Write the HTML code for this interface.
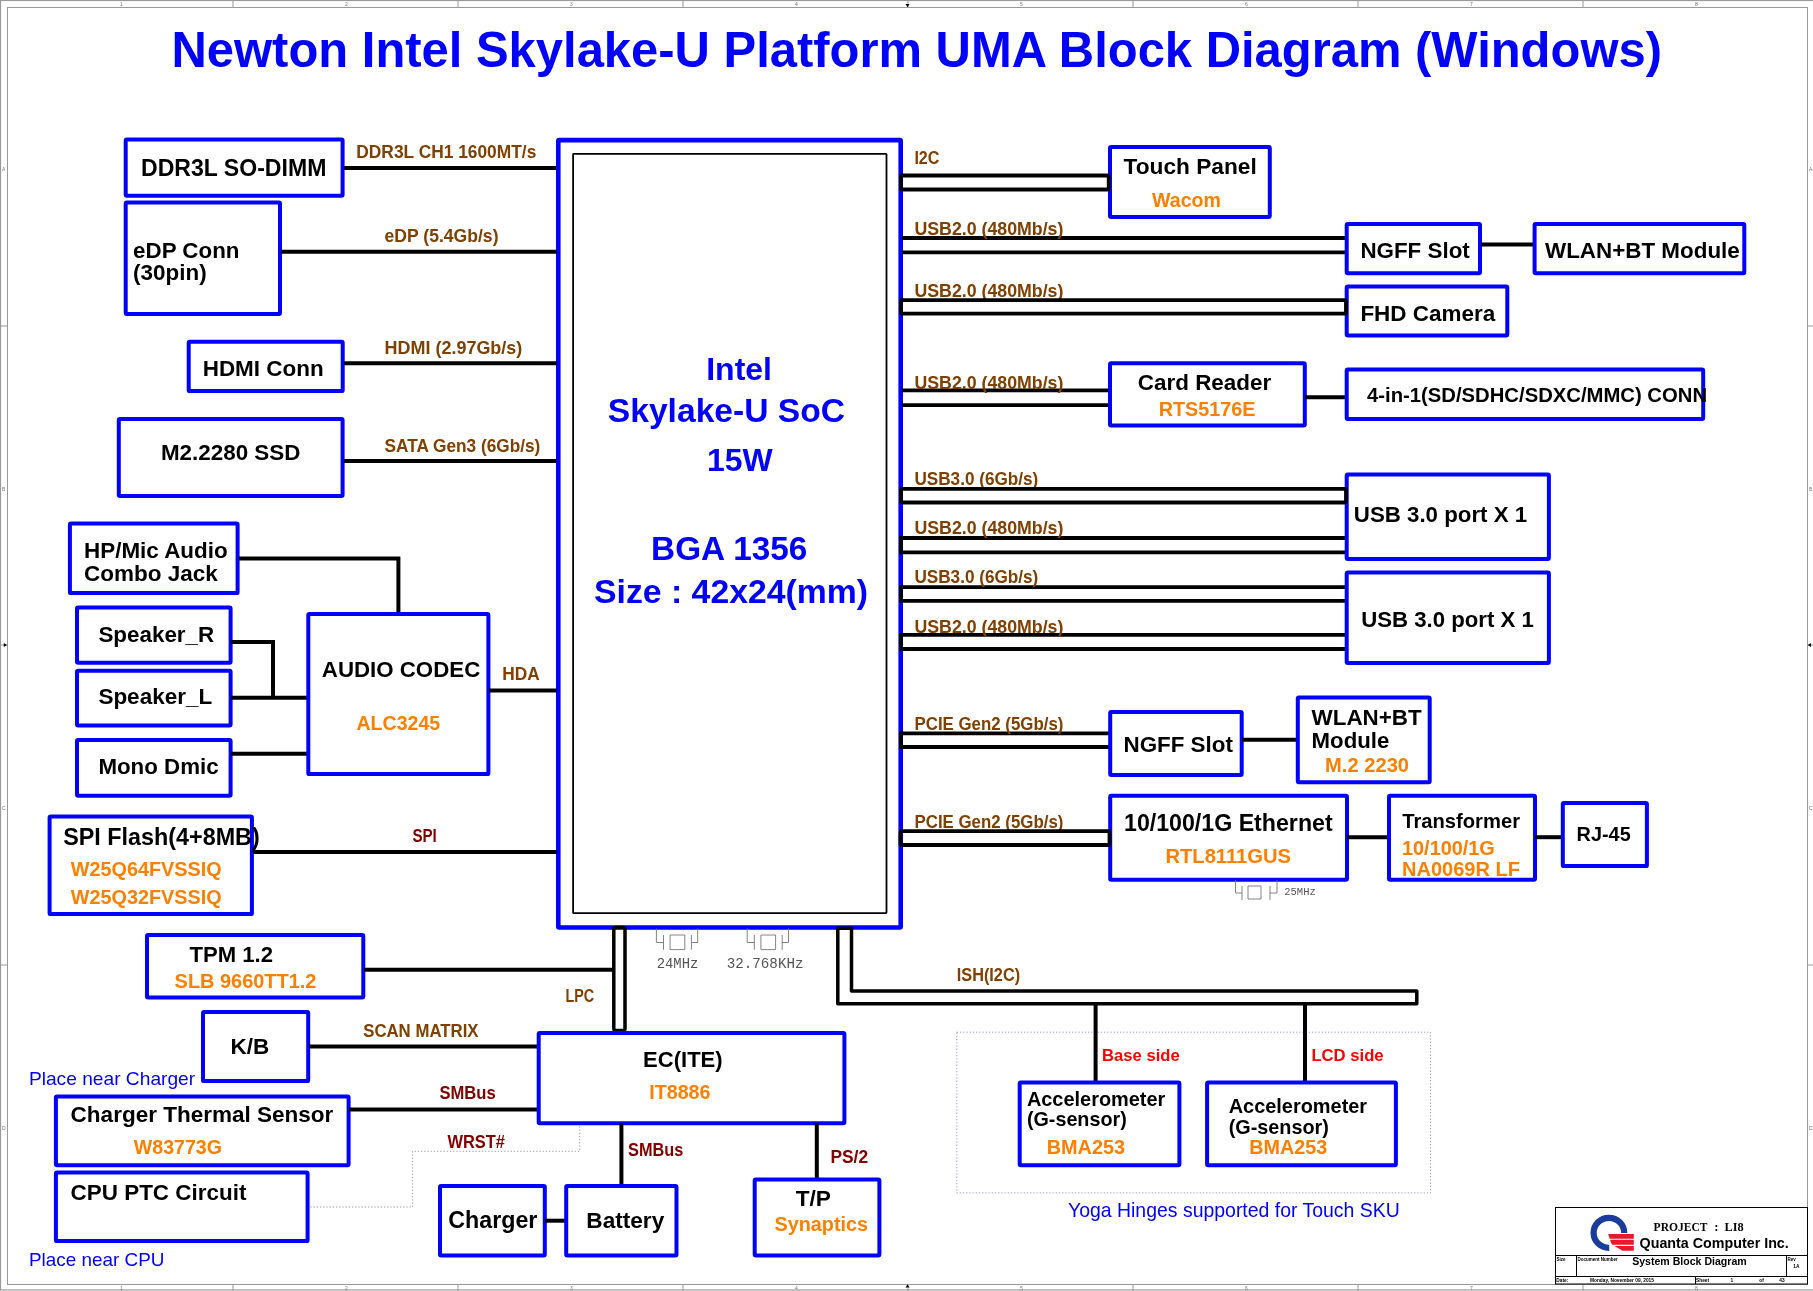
<!DOCTYPE html>
<html><head><meta charset="utf-8"><title>Newton Intel Skylake-U Platform UMA Block Diagram</title>
<style>
html,body{margin:0;padding:0;background:#fff;}
body{width:1813px;height:1291px;overflow:hidden;font-family:"Liberation Sans",sans-serif;}
svg{position:absolute;left:0;top:0;display:block;will-change:transform;}
</style></head>
<body>
<svg width="1813" height="1291" viewBox="0 0 1813 1291">
<rect x="0.5" y="0.5" width="1830" height="1289.5" fill="none" stroke="#999999" stroke-width="1.2"/>
<rect x="7.5" y="7.5" width="1800" height="1277" fill="none" stroke="#999999" stroke-width="1"/>
<line x1="233" y1="0" x2="233" y2="7" stroke="#999999" stroke-width="1"/>
<line x1="233" y1="1284" x2="233" y2="1291" stroke="#999999" stroke-width="1"/>
<line x1="458" y1="0" x2="458" y2="7" stroke="#999999" stroke-width="1"/>
<line x1="458" y1="1284" x2="458" y2="1291" stroke="#999999" stroke-width="1"/>
<line x1="683" y1="0" x2="683" y2="7" stroke="#999999" stroke-width="1"/>
<line x1="683" y1="1284" x2="683" y2="1291" stroke="#999999" stroke-width="1"/>
<line x1="908" y1="0" x2="908" y2="7" stroke="#999999" stroke-width="1"/>
<line x1="908" y1="1284" x2="908" y2="1291" stroke="#999999" stroke-width="1"/>
<line x1="1133" y1="0" x2="1133" y2="7" stroke="#999999" stroke-width="1"/>
<line x1="1133" y1="1284" x2="1133" y2="1291" stroke="#999999" stroke-width="1"/>
<line x1="1358" y1="0" x2="1358" y2="7" stroke="#999999" stroke-width="1"/>
<line x1="1358" y1="1284" x2="1358" y2="1291" stroke="#999999" stroke-width="1"/>
<line x1="1583" y1="0" x2="1583" y2="7" stroke="#999999" stroke-width="1"/>
<line x1="1583" y1="1284" x2="1583" y2="1291" stroke="#999999" stroke-width="1"/>
<text x="120" y="6" font-family='"Liberation Sans",sans-serif' font-size="5" fill="#777">1</text>
<text x="120" y="1290" font-family='"Liberation Sans",sans-serif' font-size="5" fill="#777">1</text>
<text x="345" y="6" font-family='"Liberation Sans",sans-serif' font-size="5" fill="#777">2</text>
<text x="345" y="1290" font-family='"Liberation Sans",sans-serif' font-size="5" fill="#777">2</text>
<text x="570" y="6" font-family='"Liberation Sans",sans-serif' font-size="5" fill="#777">3</text>
<text x="570" y="1290" font-family='"Liberation Sans",sans-serif' font-size="5" fill="#777">3</text>
<text x="795" y="6" font-family='"Liberation Sans",sans-serif' font-size="5" fill="#777">4</text>
<text x="795" y="1290" font-family='"Liberation Sans",sans-serif' font-size="5" fill="#777">4</text>
<text x="1020" y="6" font-family='"Liberation Sans",sans-serif' font-size="5" fill="#777">5</text>
<text x="1020" y="1290" font-family='"Liberation Sans",sans-serif' font-size="5" fill="#777">5</text>
<text x="1245" y="6" font-family='"Liberation Sans",sans-serif' font-size="5" fill="#777">6</text>
<text x="1245" y="1290" font-family='"Liberation Sans",sans-serif' font-size="5" fill="#777">6</text>
<text x="1470" y="6" font-family='"Liberation Sans",sans-serif' font-size="5" fill="#777">7</text>
<text x="1470" y="1290" font-family='"Liberation Sans",sans-serif' font-size="5" fill="#777">7</text>
<text x="1695" y="6" font-family='"Liberation Sans",sans-serif' font-size="5" fill="#777">8</text>
<text x="1695" y="1290" font-family='"Liberation Sans",sans-serif' font-size="5" fill="#777">8</text>
<line x1="0" y1="326" x2="7" y2="326" stroke="#999999" stroke-width="1"/>
<line x1="1807" y1="326" x2="1813" y2="326" stroke="#999999" stroke-width="1"/>
<line x1="0" y1="645" x2="7" y2="645" stroke="#999999" stroke-width="1"/>
<line x1="1807" y1="645" x2="1813" y2="645" stroke="#999999" stroke-width="1"/>
<line x1="0" y1="965" x2="7" y2="965" stroke="#999999" stroke-width="1"/>
<line x1="1807" y1="965" x2="1813" y2="965" stroke="#999999" stroke-width="1"/>
<text x="2" y="171" font-family='"Liberation Sans",sans-serif' font-size="5" fill="#777">A</text>
<text x="1809" y="171" font-family='"Liberation Sans",sans-serif' font-size="5" fill="#777">A</text>
<text x="2" y="491" font-family='"Liberation Sans",sans-serif' font-size="5" fill="#777">B</text>
<text x="1809" y="491" font-family='"Liberation Sans",sans-serif' font-size="5" fill="#777">B</text>
<text x="2" y="810" font-family='"Liberation Sans",sans-serif' font-size="5" fill="#777">C</text>
<text x="1809" y="810" font-family='"Liberation Sans",sans-serif' font-size="5" fill="#777">C</text>
<text x="2" y="1130" font-family='"Liberation Sans",sans-serif' font-size="5" fill="#777">D</text>
<text x="1809" y="1130" font-family='"Liberation Sans",sans-serif' font-size="5" fill="#777">D</text>
<path d="M905.5,4 h4 l-2,3.2 Z" fill="#000"/>
<path d="M905.5,1287.5 h4 l-2,-3.2 Z" fill="#000"/>
<path d="M3.8,643 v4 l3.2,-2 Z" fill="#000"/>
<path d="M1811,643 v4 l-3.2,-2 Z" fill="#000"/>
<text x="171.50" y="66.80" font-family='"Liberation Sans",sans-serif' font-weight="bold" font-size="50.29" fill="#0000FF" textLength="1490.48" lengthAdjust="spacingAndGlyphs">Newton Intel Skylake-U Platform UMA Block Diagram (Windows)</text>
<rect x="558.30" y="140.10" width="342.40" height="787.40" rx="1" fill="none" stroke="#0000FF" stroke-width="4.6"/>
<rect x="573.10" y="153.90" width="313.40" height="759.20" rx="0.5" fill="none" stroke="#000000" stroke-width="1.8"/>
<text x="706.20" y="380.10" font-family='"Liberation Sans",sans-serif' font-weight="bold" font-size="32.00" fill="#0000FF">Intel</text>
<text x="607.80" y="422.00" font-family='"Liberation Sans",sans-serif' font-weight="bold" font-size="33.62" fill="#0000FF">Skylake-U SoC</text>
<text x="706.90" y="470.80" font-family='"Liberation Sans",sans-serif' font-weight="bold" font-size="31.96" fill="#0000FF">15W</text>
<text x="651.10" y="560.20" font-family='"Liberation Sans",sans-serif' font-weight="bold" font-size="33.32" fill="#0000FF">BGA 1356</text>
<text x="594.10" y="602.50" font-family='"Liberation Sans",sans-serif' font-weight="bold" font-size="33.76" fill="#0000FF">Size : 42x24(mm)</text>
<rect x="125.70" y="139.60" width="216.90" height="56.20" rx="1.2" fill="none" stroke="#0000FF" stroke-width="4.0"/>
<text x="141.00" y="175.50" font-family='"Liberation Sans",sans-serif' font-weight="bold" font-size="23.07" fill="#000000">DDR3L SO-DIMM</text>
<path d="M344.00,167.90 L556.50,167.90" fill="none" stroke="#000000" stroke-width="4.0" stroke-linejoin="miter" stroke-linecap="butt"/>
<text x="356.30" y="157.80" font-family='"Liberation Sans",sans-serif' font-weight="bold" font-size="18.31" fill="#804000" textLength="180.00" lengthAdjust="spacingAndGlyphs">DDR3L CH1 1600MT/s</text>
<rect x="125.70" y="202.60" width="154.30" height="111.30" rx="1.2" fill="none" stroke="#0000FF" stroke-width="4.0"/>
<text x="133.10" y="257.90" font-family='"Liberation Sans",sans-serif' font-weight="bold" font-size="22.35" fill="#000000">eDP Conn</text>
<text x="133.10" y="280.40" font-family='"Liberation Sans",sans-serif' font-weight="bold" font-size="22.45" fill="#000000">(30pin)</text>
<path d="M281.00,251.80 L556.50,251.80" fill="none" stroke="#000000" stroke-width="4.0" stroke-linejoin="miter" stroke-linecap="butt"/>
<text x="384.60" y="241.70" font-family='"Liberation Sans",sans-serif' font-weight="bold" font-size="18.31" fill="#804000" textLength="113.90" lengthAdjust="spacingAndGlyphs">eDP (5.4Gb/s)</text>
<rect x="188.70" y="341.80" width="154.00" height="49.30" rx="1.2" fill="none" stroke="#0000FF" stroke-width="4.0"/>
<text x="202.70" y="376.40" font-family='"Liberation Sans",sans-serif' font-weight="bold" font-size="22.46" fill="#000000">HDMI Conn</text>
<path d="M344.00,363.20 L556.50,363.20" fill="none" stroke="#000000" stroke-width="4.0" stroke-linejoin="miter" stroke-linecap="butt"/>
<text x="384.60" y="353.90" font-family='"Liberation Sans",sans-serif' font-weight="bold" font-size="18.31" fill="#804000" textLength="137.70" lengthAdjust="spacingAndGlyphs">HDMI (2.97Gb/s)</text>
<rect x="118.80" y="419.10" width="223.80" height="76.90" rx="1.2" fill="none" stroke="#0000FF" stroke-width="4.0"/>
<text x="160.90" y="459.50" font-family='"Liberation Sans",sans-serif' font-weight="bold" font-size="22.41" fill="#000000">M2.2280 SSD</text>
<path d="M344.00,460.90 L556.50,460.90" fill="none" stroke="#000000" stroke-width="4.0" stroke-linejoin="miter" stroke-linecap="butt"/>
<text x="384.60" y="451.60" font-family='"Liberation Sans",sans-serif' font-weight="bold" font-size="18.31" fill="#804000" textLength="155.70" lengthAdjust="spacingAndGlyphs">SATA Gen3 (6Gb/s)</text>
<rect x="69.90" y="523.60" width="167.70" height="69.50" rx="1.2" fill="none" stroke="#0000FF" stroke-width="4.0"/>
<text x="84.00" y="557.70" font-family='"Liberation Sans",sans-serif' font-weight="bold" font-size="22.43" fill="#000000">HP/Mic Audio</text>
<text x="84.00" y="581.00" font-family='"Liberation Sans",sans-serif' font-weight="bold" font-size="22.49" fill="#000000">Combo Jack</text>
<path d="M239.00,558.40 L398.40,558.40 L398.40,613.50" fill="none" stroke="#000000" stroke-width="4.0" stroke-linejoin="miter" stroke-linecap="butt"/>
<rect x="77.00" y="607.60" width="153.60" height="55.20" rx="1.2" fill="none" stroke="#0000FF" stroke-width="4.0"/>
<text x="98.40" y="641.70" font-family='"Liberation Sans",sans-serif' font-weight="bold" font-size="22.42" fill="#000000">Speaker_R</text>
<rect x="77.00" y="670.80" width="153.60" height="54.60" rx="1.2" fill="none" stroke="#0000FF" stroke-width="4.0"/>
<text x="98.40" y="704.00" font-family='"Liberation Sans",sans-serif' font-weight="bold" font-size="22.49" fill="#000000">Speaker_L</text>
<rect x="77.00" y="739.90" width="153.60" height="55.80" rx="1.2" fill="none" stroke="#0000FF" stroke-width="4.0"/>
<text x="98.40" y="773.60" font-family='"Liberation Sans",sans-serif' font-weight="bold" font-size="22.32" fill="#000000">Mono Dmic</text>
<path d="M231.00,642.00 L273.00,642.00 L273.00,697.70" fill="none" stroke="#000000" stroke-width="4.0" stroke-linejoin="miter" stroke-linecap="butt"/>
<path d="M231.00,697.70 L308.00,697.70" fill="none" stroke="#000000" stroke-width="4.0" stroke-linejoin="miter" stroke-linecap="butt"/>
<path d="M231.00,753.70 L308.00,753.70" fill="none" stroke="#000000" stroke-width="4.0" stroke-linejoin="miter" stroke-linecap="butt"/>
<rect x="308.30" y="613.90" width="180.10" height="160.20" rx="1.2" fill="none" stroke="#0000FF" stroke-width="4.0"/>
<text x="321.80" y="676.80" font-family='"Liberation Sans",sans-serif' font-weight="bold" font-size="22.29" fill="#000000">AUDIO CODEC</text>
<text x="356.50" y="729.80" font-family='"Liberation Sans",sans-serif' font-weight="bold" font-size="19.56" fill="#FF8000">ALC3245</text>
<path d="M489.00,690.50 L556.50,690.50" fill="none" stroke="#000000" stroke-width="4.0" stroke-linejoin="miter" stroke-linecap="butt"/>
<text x="502.30" y="680.40" font-family='"Liberation Sans",sans-serif' font-weight="bold" font-size="18.31" fill="#804000" textLength="37.49" lengthAdjust="spacingAndGlyphs">HDA</text>
<rect x="49.60" y="816.60" width="202.30" height="97.50" rx="1.2" fill="none" stroke="#0000FF" stroke-width="4.0"/>
<text x="63.20" y="844.70" font-family='"Liberation Sans",sans-serif' font-weight="bold" font-size="23.35" fill="#000000">SPI Flash(4+8MB)</text>
<text x="70.70" y="876.00" font-family='"Liberation Sans",sans-serif' font-weight="bold" font-size="19.83" fill="#FF8000">W25Q64FVSSIQ</text>
<text x="70.70" y="904.30" font-family='"Liberation Sans",sans-serif' font-weight="bold" font-size="19.83" fill="#FF8000">W25Q32FVSSIQ</text>
<path d="M253.00,852.00 L556.50,852.00" fill="none" stroke="#000000" stroke-width="4.0" stroke-linejoin="miter" stroke-linecap="butt"/>
<text x="412.40" y="842.30" font-family='"Liberation Sans",sans-serif' font-weight="bold" font-size="18.31" fill="#800000" textLength="24.40" lengthAdjust="spacingAndGlyphs">SPI</text>
<rect x="147.00" y="935.10" width="216.30" height="62.40" rx="1.2" fill="none" stroke="#0000FF" stroke-width="4.0"/>
<text x="189.50" y="961.70" font-family='"Liberation Sans",sans-serif' font-weight="bold" font-size="22.10" fill="#000000">TPM 1.2</text>
<text x="174.60" y="987.70" font-family='"Liberation Sans",sans-serif' font-weight="bold" font-size="19.93" fill="#FF8000">SLB 9660TT1.2</text>
<path d="M364.00,969.80 L613.00,969.80" fill="none" stroke="#000000" stroke-width="4.0" stroke-linejoin="miter" stroke-linecap="butt"/>
<text x="565.50" y="1002.00" font-family='"Liberation Sans",sans-serif' font-weight="bold" font-size="18.31" fill="#804000" textLength="28.70" lengthAdjust="spacingAndGlyphs">LPC</text>
<rect x="613.8" y="927.5" width="11.2" height="103" rx="2" fill="none" stroke="#000" stroke-width="3.5"/>
<rect x="203.00" y="1012.00" width="105.20" height="69.10" rx="1.2" fill="none" stroke="#0000FF" stroke-width="4.0"/>
<text x="230.60" y="1053.80" font-family='"Liberation Sans",sans-serif' font-weight="bold" font-size="22.53" fill="#000000">K/B</text>
<path d="M309.00,1046.60 L538.00,1046.60" fill="none" stroke="#000000" stroke-width="4.0" stroke-linejoin="miter" stroke-linecap="butt"/>
<text x="363.20" y="1036.80" font-family='"Liberation Sans",sans-serif' font-weight="bold" font-size="18.31" fill="#804000" textLength="115.30" lengthAdjust="spacingAndGlyphs">SCAN MATRIX</text>
<text x="28.90" y="1085.20" font-family='"Liberation Sans",sans-serif' font-weight="normal" font-size="19.18" fill="#0000FF">Place near Charger</text>
<rect x="55.90" y="1096.40" width="292.70" height="68.90" rx="1.2" fill="none" stroke="#0000FF" stroke-width="4.0"/>
<text x="70.60" y="1122.40" font-family='"Liberation Sans",sans-serif' font-weight="bold" font-size="22.52" fill="#000000">Charger Thermal Sensor</text>
<text x="133.80" y="1154.30" font-family='"Liberation Sans",sans-serif' font-weight="bold" font-size="19.59" fill="#FF8000">W83773G</text>
<path d="M349.00,1109.60 L538.00,1109.60" fill="none" stroke="#000000" stroke-width="4.0" stroke-linejoin="miter" stroke-linecap="butt"/>
<text x="439.40" y="1099.20" font-family='"Liberation Sans",sans-serif' font-weight="bold" font-size="18.31" fill="#800000" textLength="56.30" lengthAdjust="spacingAndGlyphs">SMBus</text>
<text x="447.50" y="1148.30" font-family='"Liberation Sans",sans-serif' font-weight="bold" font-size="18.31" fill="#800000" textLength="57.50" lengthAdjust="spacingAndGlyphs">WRST#</text>
<rect x="55.90" y="1172.60" width="251.70" height="68.50" rx="1.2" fill="none" stroke="#0000FF" stroke-width="4.0"/>
<text x="70.60" y="1199.50" font-family='"Liberation Sans",sans-serif' font-weight="bold" font-size="22.44" fill="#000000">CPU PTC Circuit</text>
<text x="28.90" y="1266.00" font-family='"Liberation Sans",sans-serif' font-weight="normal" font-size="18.91" fill="#0000FF">Place near CPU</text>
<path d="M310.40,1207.00 L412.60,1207.00 L412.60,1151.30 L579.70,1151.30 L579.70,1124.00" fill="none" stroke="#999" stroke-width="1" stroke-linejoin="miter" stroke-linecap="butt" stroke-dasharray="1.2,2"/>
<rect x="538.70" y="1033.10" width="305.70" height="90.10" rx="1.2" fill="none" stroke="#0000FF" stroke-width="4.0"/>
<text x="643.10" y="1066.70" font-family='"Liberation Sans",sans-serif' font-weight="bold" font-size="22.02" fill="#000000">EC(ITE)</text>
<text x="649.20" y="1099.30" font-family='"Liberation Sans",sans-serif' font-weight="bold" font-size="19.69" fill="#FF8000">IT8886</text>
<path d="M621.40,1123.00 L621.40,1186.00" fill="none" stroke="#000000" stroke-width="4.0" stroke-linejoin="miter" stroke-linecap="butt"/>
<text x="628.00" y="1156.10" font-family='"Liberation Sans",sans-serif' font-weight="bold" font-size="18.31" fill="#800000" textLength="55.30" lengthAdjust="spacingAndGlyphs">SMBus</text>
<path d="M816.80,1123.00 L816.80,1179.00" fill="none" stroke="#000000" stroke-width="4.0" stroke-linejoin="miter" stroke-linecap="butt"/>
<text x="830.40" y="1163.40" font-family='"Liberation Sans",sans-serif' font-weight="bold" font-size="18.31" fill="#800000" textLength="37.70" lengthAdjust="spacingAndGlyphs">PS/2</text>
<rect x="440.00" y="1185.90" width="104.80" height="69.60" rx="1.2" fill="none" stroke="#0000FF" stroke-width="4.0"/>
<text x="448.30" y="1227.70" font-family='"Liberation Sans",sans-serif' font-weight="bold" font-size="23.24" fill="#000000">Charger</text>
<path d="M545.00,1220.70 L566.00,1220.70" fill="none" stroke="#000000" stroke-width="4.0" stroke-linejoin="miter" stroke-linecap="butt"/>
<rect x="566.20" y="1186.10" width="110.30" height="69.40" rx="1.2" fill="none" stroke="#0000FF" stroke-width="4.0"/>
<text x="586.30" y="1227.70" font-family='"Liberation Sans",sans-serif' font-weight="bold" font-size="22.63" fill="#000000">Battery</text>
<rect x="754.70" y="1179.60" width="124.70" height="75.90" rx="1.2" fill="none" stroke="#0000FF" stroke-width="4.0"/>
<text x="795.70" y="1205.60" font-family='"Liberation Sans",sans-serif' font-weight="bold" font-size="22.69" fill="#000000">T/P</text>
<text x="774.50" y="1231.30" font-family='"Liberation Sans",sans-serif' font-weight="bold" font-size="19.81" fill="#FF8000">Synaptics</text>
<path d="M656.4,928.5 V942.5 H663.5 M663.5,935 V949.8 M670.1,935 h14.7 v14.6 h-14.7 Z M691.4,935 V949.8 M691.4,942.5 H697.7 V928.5" fill="none" stroke="#777" stroke-width="0.9"/>
<path d="M747.2,928.5 V942.5 H754.3 M754.3,935 V949.8 M760.9,935 h14.7 v14.6 h-14.7 Z M782.2,935 V949.8 M782.2,942.5 H788.5 V928.5" fill="none" stroke="#777" stroke-width="0.9"/>
<text x="656.70" y="968.00" font-family='"Liberation Mono",monospace' font-weight="normal" font-size="13.90" fill="#555">24MHz</text>
<text x="726.80" y="968.00" font-family='"Liberation Mono",monospace' font-weight="normal" font-size="14.20" fill="#555">32.768KHz</text>
<text x="914.40" y="164.40" font-family='"Liberation Sans",sans-serif' font-weight="bold" font-size="18.31" fill="#804000" textLength="25.10" lengthAdjust="spacingAndGlyphs">I2C</text>
<rect x="1110.00" y="147.00" width="159.80" height="70.00" rx="1.2" fill="none" stroke="#0000FF" stroke-width="4.0"/>
<text x="1123.50" y="173.70" font-family='"Liberation Sans",sans-serif' font-weight="bold" font-size="22.69" fill="#000000">Touch Panel</text>
<text x="1152.10" y="206.80" font-family='"Liberation Sans",sans-serif' font-weight="bold" font-size="19.58" fill="#FF8000">Wacom</text>
<path d="M902.00,238.00 L1346.00,238.00" fill="none" stroke="#000000" stroke-width="3.8" stroke-linejoin="miter" stroke-linecap="butt"/>
<path d="M902.00,252.30 L1346.00,252.30" fill="none" stroke="#000000" stroke-width="3.8" stroke-linejoin="miter" stroke-linecap="butt"/>
<text x="914.40" y="234.60" font-family='"Liberation Sans",sans-serif' font-weight="bold" font-size="18.31" fill="#804000" textLength="148.99" lengthAdjust="spacingAndGlyphs">USB2.0 (480Mb/s)</text>
<rect x="1346.70" y="223.90" width="133.30" height="49.30" rx="1.2" fill="none" stroke="#0000FF" stroke-width="4.0"/>
<text x="1360.40" y="257.70" font-family='"Liberation Sans",sans-serif' font-weight="bold" font-size="22.38" fill="#000000">NGFF Slot</text>
<path d="M1481.00,244.50 L1534.00,244.50" fill="none" stroke="#000000" stroke-width="4.0" stroke-linejoin="miter" stroke-linecap="butt"/>
<rect x="1534.60" y="223.90" width="209.70" height="49.30" rx="1.2" fill="none" stroke="#0000FF" stroke-width="4.0"/>
<text x="1545.00" y="257.70" font-family='"Liberation Sans",sans-serif' font-weight="bold" font-size="22.42" fill="#000000">WLAN+BT Module</text>
<text x="914.40" y="296.80" font-family='"Liberation Sans",sans-serif' font-weight="bold" font-size="18.31" fill="#804000" textLength="148.99" lengthAdjust="spacingAndGlyphs">USB2.0 (480Mb/s)</text>
<rect x="1346.70" y="286.40" width="160.60" height="49.10" rx="1.2" fill="none" stroke="#0000FF" stroke-width="4.0"/>
<text x="1360.40" y="321.00" font-family='"Liberation Sans",sans-serif' font-weight="bold" font-size="22.48" fill="#000000">FHD Camera</text>
<path d="M902.00,390.30 L1109.00,390.30" fill="none" stroke="#000000" stroke-width="3.8" stroke-linejoin="miter" stroke-linecap="butt"/>
<path d="M902.00,405.10 L1109.00,405.10" fill="none" stroke="#000000" stroke-width="3.8" stroke-linejoin="miter" stroke-linecap="butt"/>
<text x="914.40" y="388.50" font-family='"Liberation Sans",sans-serif' font-weight="bold" font-size="18.31" fill="#804000" textLength="148.99" lengthAdjust="spacingAndGlyphs">USB2.0 (480Mb/s)</text>
<rect x="1110.00" y="363.30" width="194.80" height="62.10" rx="1.2" fill="none" stroke="#0000FF" stroke-width="4.0"/>
<text x="1137.80" y="389.50" font-family='"Liberation Sans",sans-serif' font-weight="bold" font-size="22.45" fill="#000000">Card Reader</text>
<text x="1158.70" y="415.50" font-family='"Liberation Sans",sans-serif' font-weight="bold" font-size="19.77" fill="#FF8000">RTS5176E</text>
<path d="M1305.00,397.20 L1346.00,397.20" fill="none" stroke="#000000" stroke-width="4.0" stroke-linejoin="miter" stroke-linecap="butt"/>
<rect x="1346.70" y="369.50" width="356.50" height="49.40" rx="1.2" fill="none" stroke="#0000FF" stroke-width="4.0"/>
<text x="1367.00" y="402.00" font-family='"Liberation Sans",sans-serif' font-weight="bold" font-size="20.28" fill="#000000">4-in-1(SD/SDHC/SDXC/MMC) CONN</text>
<text x="914.40" y="485.10" font-family='"Liberation Sans",sans-serif' font-weight="bold" font-size="18.31" fill="#804000" textLength="123.90" lengthAdjust="spacingAndGlyphs">USB3.0 (6Gb/s)</text>
<path d="M1346.00,538.00 L901.00,538.00 L901.00,552.30 L1346.00,552.30" fill="none" stroke="#000000" stroke-width="3.8" stroke-linejoin="miter" stroke-linecap="butt"/>
<text x="914.40" y="534.00" font-family='"Liberation Sans",sans-serif' font-weight="bold" font-size="18.31" fill="#804000" textLength="148.99" lengthAdjust="spacingAndGlyphs">USB2.0 (480Mb/s)</text>
<rect x="1346.70" y="474.40" width="202.20" height="84.60" rx="1.2" fill="none" stroke="#0000FF" stroke-width="4.0"/>
<text x="1353.80" y="522.30" font-family='"Liberation Sans",sans-serif' font-weight="bold" font-size="22.29" fill="#000000">USB 3.0 port X 1</text>
<path d="M1346.00,587.10 L901.00,587.10 L901.00,600.90 L1346.00,600.90" fill="none" stroke="#000000" stroke-width="3.8" stroke-linejoin="miter" stroke-linecap="butt"/>
<text x="914.40" y="583.20" font-family='"Liberation Sans",sans-serif' font-weight="bold" font-size="18.31" fill="#804000" textLength="123.90" lengthAdjust="spacingAndGlyphs">USB3.0 (6Gb/s)</text>
<path d="M1346.00,634.80 L901.00,634.80 L901.00,649.00 L1346.00,649.00" fill="none" stroke="#000000" stroke-width="3.8" stroke-linejoin="miter" stroke-linecap="butt"/>
<text x="914.40" y="632.70" font-family='"Liberation Sans",sans-serif' font-weight="bold" font-size="18.31" fill="#804000" textLength="148.99" lengthAdjust="spacingAndGlyphs">USB2.0 (480Mb/s)</text>
<rect x="1346.70" y="572.40" width="202.20" height="90.60" rx="1.2" fill="none" stroke="#0000FF" stroke-width="4.0"/>
<text x="1361.20" y="627.40" font-family='"Liberation Sans",sans-serif' font-weight="bold" font-size="22.20" fill="#000000">USB 3.0 port X 1</text>
<path d="M1109.00,733.30 L901.00,733.30 L901.00,747.00 L1109.00,747.00" fill="none" stroke="#000000" stroke-width="3.8" stroke-linejoin="miter" stroke-linecap="butt"/>
<text x="914.50" y="730.10" font-family='"Liberation Sans",sans-serif' font-weight="bold" font-size="18.31" fill="#804000" textLength="148.91" lengthAdjust="spacingAndGlyphs">PCIE Gen2 (5Gb/s)</text>
<rect x="1110.20" y="711.90" width="131.50" height="63.10" rx="1.2" fill="none" stroke="#0000FF" stroke-width="4.0"/>
<text x="1123.50" y="752.30" font-family='"Liberation Sans",sans-serif' font-weight="bold" font-size="22.38" fill="#000000">NGFF Slot</text>
<path d="M1242.00,739.80 L1297.00,739.80" fill="none" stroke="#000000" stroke-width="4.0" stroke-linejoin="miter" stroke-linecap="butt"/>
<rect x="1297.80" y="697.40" width="131.90" height="84.80" rx="1.2" fill="none" stroke="#0000FF" stroke-width="4.0"/>
<text x="1311.60" y="724.60" font-family='"Liberation Sans",sans-serif' font-weight="bold" font-size="22.40" fill="#000000">WLAN+BT</text>
<text x="1311.60" y="747.60" font-family='"Liberation Sans",sans-serif' font-weight="bold" font-size="22.20" fill="#000000">Module</text>
<text x="1325.10" y="771.80" font-family='"Liberation Sans",sans-serif' font-weight="bold" font-size="20.15" fill="#FF8000">M.2 2230</text>
<text x="914.50" y="827.80" font-family='"Liberation Sans",sans-serif' font-weight="bold" font-size="18.31" fill="#804000" textLength="148.91" lengthAdjust="spacingAndGlyphs">PCIE Gen2 (5Gb/s)</text>
<rect x="1110.20" y="795.80" width="236.80" height="83.90" rx="1.2" fill="none" stroke="#0000FF" stroke-width="4.0"/>
<text x="1124.00" y="830.90" font-family='"Liberation Sans",sans-serif' font-weight="bold" font-size="23.18" fill="#000000">10/100/1G Ethernet</text>
<text x="1165.40" y="863.00" font-family='"Liberation Sans",sans-serif' font-weight="bold" font-size="20.21" fill="#FF8000">RTL8111GUS</text>
<path d="M1347.00,837.20 L1389.00,837.20" fill="none" stroke="#000000" stroke-width="4.0" stroke-linejoin="miter" stroke-linecap="butt"/>
<rect x="1389.00" y="795.80" width="146.00" height="83.90" rx="1.2" fill="none" stroke="#0000FF" stroke-width="4.0"/>
<text x="1402.20" y="827.80" font-family='"Liberation Sans",sans-serif' font-weight="bold" font-size="20.19" fill="#000000">Transformer</text>
<text x="1402.00" y="854.50" font-family='"Liberation Sans",sans-serif' font-weight="bold" font-size="19.89" fill="#FF8000">10/100/1G</text>
<text x="1402.00" y="875.50" font-family='"Liberation Sans",sans-serif' font-weight="bold" font-size="20.03" fill="#FF8000">NA0069R LF</text>
<path d="M1535.00,837.20 L1563.00,837.20" fill="none" stroke="#000000" stroke-width="4.0" stroke-linejoin="miter" stroke-linecap="butt"/>
<rect x="1562.80" y="803.10" width="84.10" height="63.00" rx="1.2" fill="none" stroke="#0000FF" stroke-width="4.0"/>
<text x="1576.60" y="841.00" font-family='"Liberation Sans",sans-serif' font-weight="bold" font-size="19.86" fill="#000000">RJ-45</text>
<path d="M1235.5,880 V893 H1242 M1242,886 V900 M1248,886 h13 v13 h-13 Z M1270,886 V900 M1270,893 H1277 V880" fill="none" stroke="#777" stroke-width="0.9"/>
<text x="1284.30" y="895.30" font-family='"Liberation Mono",monospace' font-weight="normal" font-size="10.47" fill="#555">25MHz</text>
<path d="M837.8,928.2 V1003.8 H1416.8 V991.1 H851.5 V928.2 Z" fill="none" stroke="#000" stroke-width="3.5" stroke-linejoin="round"/>
<text x="956.80" y="980.90" font-family='"Liberation Sans",sans-serif' font-weight="bold" font-size="18.31" fill="#804000" textLength="63.30" lengthAdjust="spacingAndGlyphs">ISH(I2C)</text>
<rect x="956.8" y="1032.2" width="473.7" height="160.7" fill="none" stroke="#9a9ad8" stroke-width="1" stroke-dasharray="1.2,2"/>
<path d="M1095.60,1004.00 L1095.60,1082.00" fill="none" stroke="#000000" stroke-width="4.0" stroke-linejoin="miter" stroke-linecap="butt"/>
<path d="M1305.00,1004.00 L1305.00,1082.00" fill="none" stroke="#000000" stroke-width="4.0" stroke-linejoin="miter" stroke-linecap="butt"/>
<text x="1102.10" y="1060.90" font-family='"Liberation Sans",sans-serif' font-weight="bold" font-size="16.64" fill="#FF0000">Base side</text>
<text x="1311.40" y="1060.90" font-family='"Liberation Sans",sans-serif' font-weight="bold" font-size="16.66" fill="#FF0000">LCD side</text>
<rect x="1019.70" y="1082.50" width="159.70" height="82.80" rx="1.2" fill="none" stroke="#0000FF" stroke-width="4.0"/>
<text x="1026.90" y="1106.40" font-family='"Liberation Sans",sans-serif' font-weight="bold" font-size="19.93" fill="#000000">Accelerometer</text>
<text x="1026.90" y="1126.20" font-family='"Liberation Sans",sans-serif' font-weight="bold" font-size="19.76" fill="#000000">(G-sensor)</text>
<text x="1046.70" y="1154.30" font-family='"Liberation Sans",sans-serif' font-weight="bold" font-size="19.87" fill="#FF8000">BMA253</text>
<rect x="1207.10" y="1082.50" width="188.80" height="82.80" rx="1.2" fill="none" stroke="#0000FF" stroke-width="4.0"/>
<text x="1228.70" y="1113.20" font-family='"Liberation Sans",sans-serif' font-weight="bold" font-size="19.93" fill="#000000">Accelerometer</text>
<text x="1228.70" y="1133.70" font-family='"Liberation Sans",sans-serif' font-weight="bold" font-size="19.82" fill="#000000">(G-sensor)</text>
<text x="1249.20" y="1154.30" font-family='"Liberation Sans",sans-serif' font-weight="bold" font-size="19.77" fill="#FF8000">BMA253</text>
<text x="1068.00" y="1216.90" font-family='"Liberation Sans",sans-serif' font-weight="normal" font-size="19.44" fill="#0000FF">Yoga Hinges supported for Touch SKU</text>
<rect x="1555.5" y="1207.5" width="252" height="76.5" fill="#fff" stroke="#000" stroke-width="1"/>
<line x1="1555.5" y1="1255.5" x2="1807.5" y2="1255.5" stroke="#000" stroke-width="1"/>
<line x1="1555.5" y1="1276.5" x2="1807.5" y2="1276.5" stroke="#000" stroke-width="1"/>
<line x1="1576.5" y1="1255.5" x2="1576.5" y2="1276.5" stroke="#000" stroke-width="1"/>
<line x1="1786.5" y1="1255.5" x2="1786.5" y2="1276.5" stroke="#000" stroke-width="1"/>
<line x1="1695.5" y1="1276.5" x2="1695.5" y2="1284" stroke="#000" stroke-width="1"/>
<path d="M1624.2,1233 A15.3,15 0 1 0 1609.2,1247.8" fill="none" stroke="#1a3c9c" stroke-width="6.2"/>
<path d="M1608.1,1234 H1633.8 V1238.8 H1609.8 Z M1609.9,1239.7 H1633.8 V1244.8 H1612 Z M1614.5,1245.9 H1633.8 V1250.8 H1622.6 Z" fill="#e8192c"/>
<text x="1653.60" y="1230.90" font-family='"Liberation Serif",serif' font-weight="bold" font-size="11.57" fill="#000000">PROJECT</text>
<text x="1714.30" y="1230.90" font-family='"Liberation Serif",serif' font-weight="bold" font-size="12.80" fill="#000000">:</text>
<text x="1724.60" y="1230.90" font-family='"Liberation Serif",serif' font-weight="bold" font-size="12.34" fill="#000000">LI8</text>
<text x="1639.60" y="1247.80" font-family='"Liberation Sans",sans-serif' font-weight="bold" font-size="14.29" fill="#000000">Quanta Computer Inc.</text>
<text x="1632.20" y="1264.50" font-family='"Liberation Sans",sans-serif' font-weight="bold" font-size="10.57" fill="#000000">System Block Diagram</text>
<text x="1556.5" y="1260.5" font-family='"Liberation Sans",sans-serif' font-weight="bold" font-size="4.5" fill="#000">Size</text>
<text x="1577.5" y="1260.5" font-family='"Liberation Sans",sans-serif' font-weight="bold" font-size="4.5" fill="#000">Document Number</text>
<text x="1787.5" y="1260.5" font-family='"Liberation Sans",sans-serif' font-weight="bold" font-size="4.5" fill="#000">Rev</text>
<text x="1793.3" y="1268.2" font-family='"Liberation Sans",sans-serif' font-weight="bold" font-size="4.8" fill="#000">1A</text>
<text x="1556.3" y="1281.8" font-family='"Liberation Sans",sans-serif' font-weight="bold" font-size="4.8" fill="#000">Date:</text>
<text x="1590" y="1281.8" font-family='"Liberation Sans",sans-serif' font-weight="bold" font-size="4.8" fill="#000">Monday, November 09, 2015</text>
<text x="1696" y="1281.8" font-family='"Liberation Sans",sans-serif' font-weight="bold" font-size="4.8" fill="#000">Sheet</text>
<text x="1730.5" y="1281.8" font-family='"Liberation Sans",sans-serif' font-weight="bold" font-size="4.8" fill="#000">1</text>
<text x="1759.3" y="1281.8" font-family='"Liberation Sans",sans-serif' font-weight="bold" font-size="4.8" fill="#000">of</text>
<text x="1779.3" y="1281.8" font-family='"Liberation Sans",sans-serif' font-weight="bold" font-size="4.8" fill="#000">43</text>
<rect x="901.00" y="175.50" width="207.70" height="14.00" rx="1.5" fill="none" stroke="#000000" stroke-width="3.8"/>
<rect x="901.00" y="300.20" width="445.00" height="13.50" rx="1.5" fill="none" stroke="#000000" stroke-width="3.8"/>
<rect x="901.00" y="488.80" width="445.00" height="13.70" rx="1.5" fill="none" stroke="#000000" stroke-width="3.8"/>
<rect x="900.50" y="831.20" width="209.00" height="13.80" rx="1.5" fill="none" stroke="#000000" stroke-width="3.8"/>
</svg>
</body></html>
